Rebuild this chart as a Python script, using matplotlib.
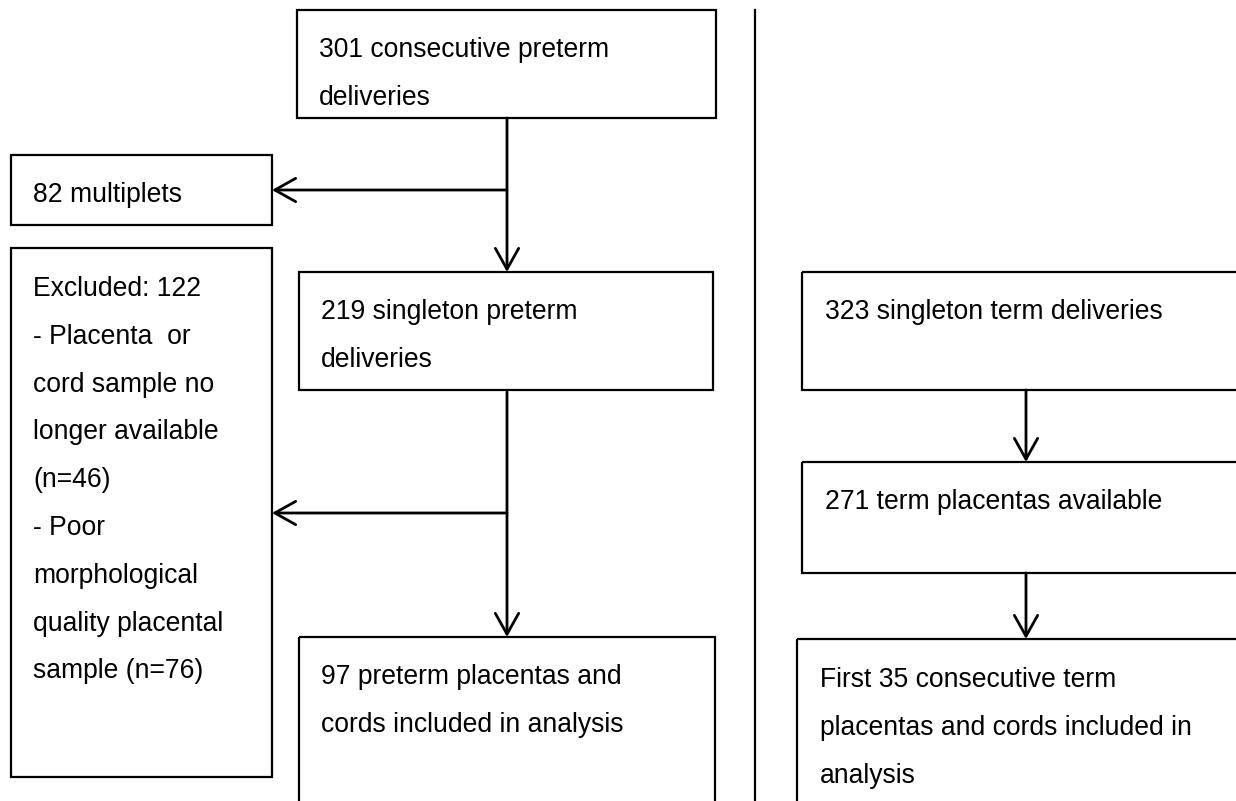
import matplotlib
matplotlib.use("Agg")
import matplotlib.pyplot as plt
from matplotlib.patches import Rectangle

plt.rcParams['font.family'] = ['Liberation Sans', 'DejaVu Sans']

# textos de cada caja del diagrama de flujo
preterm_all = ["301 consecutive preterm", "deliveries"]
multiplets = ["82 multiplets"]
excluded = ["Excluded: 122", "- Placenta  or", "cord sample no", "longer available",
            "(n=46)", "- Poor", "morphological", "quality placental", "sample (n=76)"]
preterm_single = ["219 singleton preterm", "deliveries"]
preterm_final = ["97 preterm placentas and", "cords included in analysis"]
term_single = ["323 singleton term deliveries"]
term_available = ["271 term placentas available"]
term_final = ["First 35 consecutive term", "placentas and cords included in", "analysis"]

W, H = 1236, 801
LINE = 47.8      # interlineado en px
FS = 19.1

# layout en px: (x0, y0, x1, y1, texto_x, primera_linea_y, lineas)
boxes = [
    (297, 10, 716, 118, 319, 57, preterm_all),
    (11, 155, 272, 225, 33, 202, multiplets),
    (11, 248, 272, 777, 33, 296, excluded),
    (299, 272, 713, 390, 321, 319, preterm_single),
    (299, 637, 715, 812, 321, 684, preterm_final),
    (802, 272, 1245, 390, 825, 319, term_single),
    (802, 462, 1245, 573, 825, 509, term_available),
    (797, 639, 1245, 812, 820, 687, term_final),
]

fig = plt.figure(figsize=(W / 100, H / 100), dpi=100)
ax = fig.add_axes([0, 0, 1, 1])
ax.set_xlim(0, W)
ax.set_ylim(H, 0)
ax.axis('off')

for x0, y0, x1, y1, tx, ty, lines in boxes:
    ax.add_patch(Rectangle((x0, y0), x1 - x0, y1 - y0, fill=False,
                           edgecolor='black', lw=1.6, clip_on=False))
    for i, s in enumerate(lines):
        ax.text(tx, ty + i * LINE, s, fontsize=FS, ha='left', va='baseline', color='black')

arrow_kw = dict(arrowstyle='->,head_length=0.75,head_width=0.42', lw=2.0, color='black',
                shrinkA=0, shrinkB=0, mutation_scale=20)

def arrow(x0, y0, x1, y1):
    ax.annotate('', xy=(x1, y1), xytext=(x0, y0), arrowprops=arrow_kw)

# rama preterm
arrow(507, 118, 507, 272)
arrow(507, 190, 272, 190)
arrow(507, 392, 507, 637)
arrow(507, 513, 272, 513)

# rama término
arrow(1026, 390, 1026, 462)
arrow(1026, 573, 1026, 639)

# separador vertical
ax.plot([755, 755], [10, H], color='black', lw=1.6)

fig.savefig('out.png', dpi=100, facecolor='white')
